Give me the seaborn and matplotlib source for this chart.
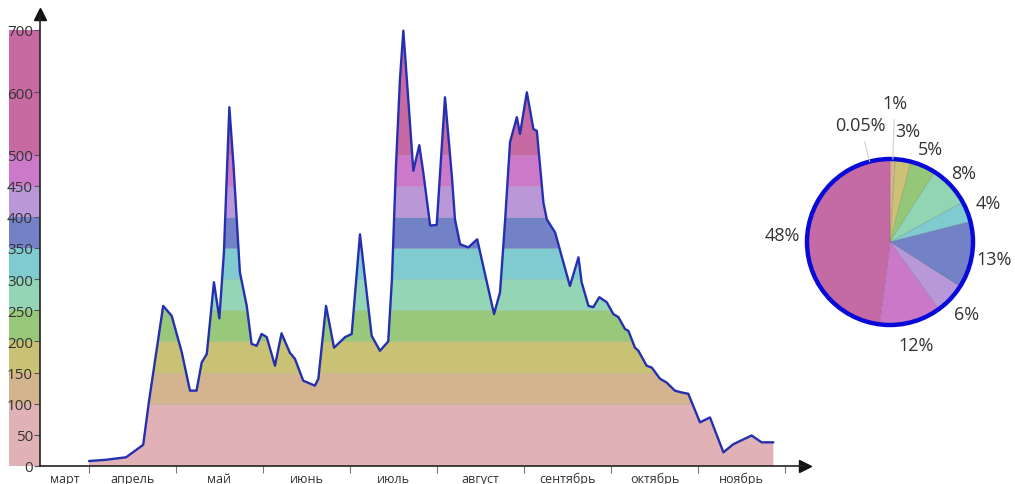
import numpy as np
import matplotlib
matplotlib.use("Agg")
import matplotlib.pyplot as plt
from matplotlib.patches import Circle
import seaborn as sns

# days counted from 1 April
days = [0, 6, 13, 19, 21, 26, 29, 32.5, 35.4, 37.7, 39.5, 41.3, 43.8, 45.7, 47.3,
        49.2, 50.6, 52.9, 55.3, 57, 58.8, 60.5, 62.3, 65.2, 67.5, 70.4, 72.2, 75.1,
        79.2, 80.4, 83.1, 85.9, 89.8, 92.1, 95, 96.8, 99.1, 102, 104.9, 106.2, 107.6,
        109, 110.2, 112, 113.7, 115.8, 117.2, 119.6, 121.9, 124.8, 127.2, 128.3,
        130.1, 133, 136.1, 138.2, 142, 144.1, 145.9, 147.6, 150, 151.1, 153.5, 155.8,
        157, 159.3, 160.5, 163.4, 166.3, 168.6, 171.6, 172.7, 175.1, 176.8, 178.9,
        181.5, 183.8, 185.6, 187.9, 189.1, 191.4, 192.6, 195.5, 197.3, 200.2, 202.5,
        205.4, 207.8, 210.1, 214.2, 217.7, 222.4, 225.9, 232.3, 235.8, 239.9]
values = [8, 10, 14, 34, 103, 257, 241, 183, 121, 121, 166, 180, 295, 237, 343,
          576, 487, 311, 257, 196, 193, 212, 207, 161, 213, 182, 172, 137,
          129, 140, 257, 190, 207, 212, 372, 300, 209, 185, 200, 300, 480,
          620, 699, 584, 474, 515, 471, 386, 387, 592, 466, 396,
          356, 351, 364, 321, 244, 279, 396, 520, 560, 533, 600, 541,
          538, 423, 396, 375, 327, 289, 335, 295, 257, 255, 271,
          263, 244, 239, 220, 217, 190, 185, 161, 158, 140, 134,
          121, 118, 116, 70, 78, 22, 35, 49, 38, 38]

band_edges = [0, 100, 150, 200, 250, 300, 350, 400, 450, 500, 700]
band_colors = ["#e0b2b5", "#d4b38f", "#c9c274", "#98c87a", "#93d5b5",
               "#7fcbd0", "#7381c6", "#ba98d8", "#cd79c9", "#c76aa4"]
y_ticks = [0, 50, 100, 150, 200, 250, 300, 350, 400, 450, 500, 600, 700]

months = ["март", "апрель", "май", "июнь", "июль", "август", "сентябрь", "октябрь", "ноябрь"]
month_len = 30.5

pie_values = [0.05, 1, 3, 5, 8, 4, 13, 6, 12, 48]
pie_colors = ["#e0b2b5", "#d4b38f", "#cdc177", "#94c878", "#91d5b3",
              "#7fcbd0", "#7382c6", "#b898d9", "#cc78c8", "#c46aa4"]

sns.set_theme(style="white")
font = ["Liberation Sans Narrow", "Open Sans", "DejaVu Sans"]
plt.rcParams["font.family"] = font

W, H = 1015, 485
fig = plt.figure(figsize=(W / 100, H / 100), dpi=100)

# geometry in pixels
x0, x1 = 40, 805
y0, y1 = 467, 15
px_per_day = 87 / month_len
px_per_unit = 436 / 700

# colour scale on the left
cax = fig.add_axes([9 / W, (H - y0) / H, (x0 - 9) / W, (y0 - y1) / H])
for lo, hi, c in zip(band_edges[:-1], band_edges[1:], band_colors):
    cax.bar(0, hi - lo, bottom=lo, width=1, color=c, linewidth=0)
cax.set_xlim(-0.5, 0.5)
cax.set_ylim(0, (y0 - y1) / px_per_unit)
cax.axis("off")

ax = fig.add_axes([x0 / W, (H - y0) / H, (x1 - x0) / W, (y0 - y1) / H])
ax.set_facecolor("none")

# area under the curve, used as clip shape for the horizontal colour bands
under = ax.fill_between(days, 0, values, color="none", linewidth=0)
for lo, hi, c in zip(band_edges[:-1], band_edges[1:], band_colors):
    band = ax.axhspan(lo, hi, facecolor=c, edgecolor=(0, 0, 0, 0.07), linewidth=0.6)
    band.set_clip_path(under.get_paths()[0], ax.transData)
sns.lineplot(x=days, y=values, ax=ax, color="#2430b0", linewidth=1.7)

ax.set_xlim(-(89 - x0) / px_per_day, (x1 - 89) / px_per_day)
ax.set_ylim(0, (y0 - y1) / px_per_unit)

ax.set_yticks(y_ticks)
ax.set_yticklabels([str(t) for t in y_ticks])
ax.tick_params(axis="y", direction="out", length=4, width=0.8, color="#555",
               labelsize=11, labelcolor="#333", pad=1, left=True)

starts = [i * month_len for i in range(len(months))]
ax.set_xticks(starts)
ax.set_xticklabels([""] * len(starts))
centers = [(ax.get_xlim()[0]) / 2] + [s + month_len / 2 for s in starts[:-1]]
ax.set_xticks(centers, minor=True)
ax.set_xticklabels(months, minor=True)
ax.tick_params(axis="x", which="major", direction="out", length=5, width=0.8,
               color="#777", bottom=True)
ax.tick_params(axis="x", which="minor", length=0, labelsize=9, labelcolor="#333", pad=4)

for s in ["top", "right"]:
    ax.spines[s].set_visible(False)
for s in ["left", "bottom"]:
    ax.spines[s].set_color("#222")
    ax.spines[s].set_linewidth(1.2)
ax.plot(1, 0, ">", color="#111", ms=8, transform=ax.transAxes, clip_on=False)
ax.plot(0, 1, "^", color="#111", ms=8, transform=ax.transAxes, clip_on=False)
ax.set_xlabel("")
ax.set_ylabel("")

# pie on the right
cx, cy, r = 890, 243, 83
R = r * 1.25
pax = fig.add_axes([(cx - R) / W, (H - cy - R) / H, 2 * R / W, 2 * R / H])
wedges, _ = pax.pie(pie_values, colors=pie_colors, startangle=90, counterclock=False,
                    wedgeprops=dict(linewidth=0.6, edgecolor=(0, 0, 0, 0.12)))
pax.add_patch(Circle((0, 0), 1, fill=False, edgecolor="#0a0ad8", linewidth=3.2))
label_dist = [1.45, 1.68, 1.36, 1.22, 1.22, 1.27, 1.27, 1.26, 1.28, 1.3]
for w, val, d in zip(wedges, pie_values, label_dist):
    a = np.deg2rad((w.theta1 + w.theta2) / 2)
    if val < 1.5:
        a = a + (0.25 if val < 0.5 else 0.0)
        pax.plot([np.cos(a) * 1.0, np.cos(a) * (d - 0.2)],
                 [np.sin(a) * 1.0, np.sin(a) * (d - 0.2)],
                 color="#cfcfcf", lw=0.8, clip_on=False)
    pax.text(np.cos(a) * d, np.sin(a) * d, f"{val:g}%", ha="center", va="center",
             fontsize=13, color="#333")
pax.set_xlim(-1.25, 1.25)
pax.set_ylim(-1.25, 1.25)

fig.savefig("out.png", dpi=100)
